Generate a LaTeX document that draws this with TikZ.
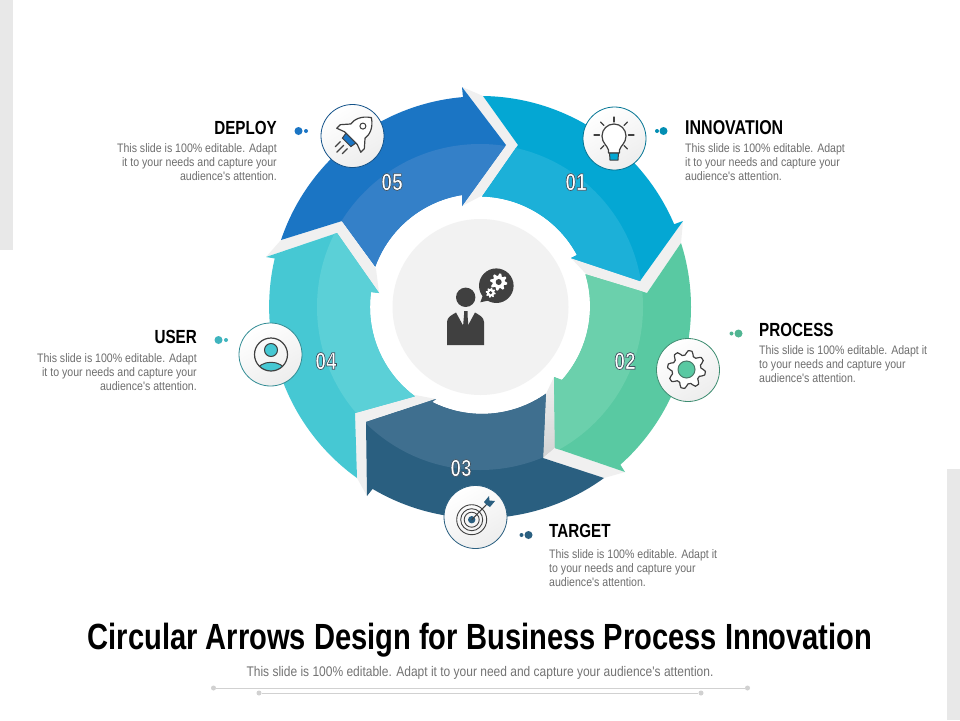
\documentclass[tikz,border=0pt]{standalone}
\usepackage{fontspec}
\setmainfont{Liberation Sans}
\newfontfamily\headfont[FakeStretch=0.80]{Liberation Sans}
\newfontfamily\bodyfont[FakeStretch=0.86]{Liberation Sans}
\definecolor{cA}{HTML}{04A7D3}\definecolor{lA}{HTML}{1CB0D8}
\definecolor{cB}{HTML}{59C9A2}\definecolor{lB}{HTML}{6BD0AC}
\definecolor{cC}{HTML}{2A5F80}\definecolor{lC}{HTML}{3F6F8F}
\definecolor{cD}{HTML}{46C8D3}\definecolor{lD}{HTML}{5BD0D7}
\definecolor{cE}{HTML}{1B75C4}\definecolor{lE}{HTML}{3480C8}
\definecolor{ink}{HTML}{404040}
\definecolor{gapc}{HTML}{F0F0F0}
\definecolor{bodyc}{HTML}{6E6E6E}
\newcommand{\arA}{(483,96) arc[start angle=89.2,end angle=23.1,radius=211pt] -- (683,221) -- (640,281) -- (571,258) -- (577,255) arc[start angle=28.2,end angle=88.5,radius=111pt] -- (518,145) -- cycle}
\newcommand{\arB}{(681,243) arc[start angle=17.7,end angle=-48.3,radius=211pt] -- (625,472) -- (555,448) -- (554,377) -- (562,380) arc[start angle=-41.7,end angle=16.7,radius=111pt] -- (647,293) -- cycle}
\newcommand{\arC}{(604,478) arc[start angle=-54,end angle=-120.6,radius=211pt] -- (367,496) -- (366,422) -- (436,399) -- (432,402) arc[start angle=-116.8,end angle=-54.9,radius=111pt] -- (543,458) -- cycle}
\newcommand{\arD}{(357,478) arc[start angle=234.3,end angle=166.8,radius=211pt] -- (266,257) -- (337,233) -- (379,293) -- (371,292) arc[start angle=172.2,end angle=233.5,radius=111pt] -- (355,413) -- cycle}
\newcommand{\arE}{(281,240) arc[start angle=161.4,end angle=94.9,radius=211pt] -- (462,87) -- (506,145) -- (462,206) -- (462,195) arc[start angle=99.1,end angle=160,radius=111pt] -- (342,221) -- cycle}
\newcommand{\blockarrow}[3]{\fill[#2] #1;\begin{scope}\clip (480,307) circle[radius=163pt];\fill[#3] #1;\end{scope}}
\newcommand{\gearplot}[6]{\draw[#6] plot[samples=#5*8+1,domain=0:360,variable=\t] ({#1+(#3+(#4-#3)*min(1,max(0,0.5+1.6*sin(#5*\t))))*cos(\t)},{#2+(#3+(#4-#3)*min(1,max(0,0.5+1.6*sin(#5*\t))))*sin(\t)}) -- cycle;}
\newcommand{\outlinenum}[1]{\special{pdf:code q 2 Tr 0.7 w 0.25 0.32 0.38 RG}#1\special{pdf:code Q}}
\tikzset{
 iconball/.style={circle,minimum size=63pt,inner sep=0pt,draw=#1,line width=0.8pt,left color=white,right color=black!7,shading angle=30},
 bigdot/.style={circle,fill=#1,minimum size=8pt,inner sep=0pt},
 smalldot/.style={circle,fill=#1,minimum size=4pt,inner sep=0pt},
 ruledot/.style={circle,fill=black!18,minimum size=5pt,inner sep=0pt},
 rule/.style={draw=black!18,line width=1pt},
 headl/.style={font=\headfont\bfseries\fontsize{19}{19}\selectfont,text=black,inner sep=0pt},
 bodyl/.style={font=\bodyfont\fontsize{12.3}{14}\selectfont,text=bodyc,inner sep=0pt},
 numl/.style={font=\headfont\bfseries\fontsize{24}{24}\selectfont,text=white,inner sep=0pt},
 iconline/.style={draw=ink,line width=1.2pt,line cap=round,line join=round},
}
\begin{document}
\begin{tikzpicture}[x=1pt,y=-1pt]
\useasboundingbox (0,0) rectangle (960,720);
\fill[white] (0,0) rectangle (960,720);
\fill[black!9] (0,0) rectangle (13,250);
\fill[black!9] (947,469) rectangle (960,720);
% gaps between arrows
\fill[gapc] (462,87) -- (483,96) -- (518,145) -- (483,195) -- (462,206) -- (506,145) -- cycle;
\fill[gapc] (683,221) -- (640,281) -- (571,258) -- (587,275) -- (647,293) -- (681,243) -- cycle;
\shade[top color=black!6,bottom color=black!17] (554,377) -- (555,448) -- (543,458) -- (544,398) -- cycle;
\fill[gapc] (555,448) -- (625,472) -- (604,478) -- (543,458) -- cycle;
\fill[gapc] (366,422) -- (436,399) -- (415,395) -- (355,413) -- (357,478) -- (367,496) -- cycle;
\fill[gapc] (281,240) -- (342,221) -- (376,269) -- (379,293) -- (337,233) -- (266,257) -- cycle;
% arrows
\blockarrow{\arA}{cA}{lA}
\blockarrow{\arB}{cB}{lB}
\blockarrow{\arC}{cC}{lC}
\blockarrow{\arD}{cD}{lD}
\blockarrow{\arE}{cE}{lE}
% centre
\node[circle,fill=black!5,minimum size=176pt,inner sep=0pt] (hub) at (480.5,307) {};
\fill[ink] (465.7,297.3) circle[radius=9.7pt];
\fill[ink] (447,345) -- (447,322) .. controls (447,317) and (452,315) .. (456,312.5) -- (465.5,330) -- (475,312.5) .. controls (479,315) and (484,317) .. (484,322) -- (484,345) -- cycle;
\fill[ink] (464,311) -- (467.5,311) -- (467.5,315) -- (468.5,327) -- (465.8,331) -- (463,327) -- (464,315) -- cycle;
\fill[ink] (496.3,285.7) circle[radius=17.3pt];
\fill[ink] (483,295) -- (480.3,302.3) -- (491,300) -- cycle;
\gearplot{498.7}{282}{6.2}{8.6}{8}{fill=white,draw=none}
\fill[ink] (498.7,282) circle[radius=3pt];
\gearplot{490.7}{292.7}{3.6}{5}{8}{fill=white,draw=none}
\fill[ink] (490.7,292.7) circle[radius=1.7pt];
% icon balls
\node[iconball=cA!70!black] (ballA) at (614.5,138.5) {};
\node[iconball=cB!70!black] (ballB) at (688,370) {};
\node[iconball=cC] (ballC) at (475.5,517) {};
\node[iconball=cD!70!black] (ballD) at (270.5,354.5) {};
\node[iconball=cE!70!black] (ballE) at (352.5,136) {};
% bulb
\draw[iconline,fill=white] (608.5,153) -- (608.5,150) .. controls (607,145) and (602,143) .. (602,136) arc[start angle=180,end angle=0,radius=12pt] .. controls (626,143) and (621,145) .. (619.5,150) -- (619.5,153) -- cycle;
\draw[draw=ink,line width=1pt,fill=cA] (609.5,153) -- (618.5,153) -- (618,160) -- (610,160) -- cycle;
\foreach \a/\b/\c/\d in {614/117/614/122,594/135/599.5/135,628.5/135/634/135,600.5/122/604/125.5,627.5/122/624/125.5,600.5/149/604/145.5,627.5/149/624/145.5}
  \draw[iconline] (\a,\b) -- (\c,\d);
% rocket
\begin{scope}[shift={(353,136)},rotate=-45]
\draw[iconline,fill=white] (0,-26) .. controls (9,-20) and (11,-12) .. (10,-7) -- (17,1) -- (17,6) -- (9,3) -- (-9,3) -- (-17,6) -- (-17,1) -- (-10,-7) .. controls (-11,-12) and (-9,-20) .. (0,-26) -- cycle;
\draw[iconline,line width=1pt] (0,-14) circle[radius=3pt];
\draw[draw=ink,line width=1pt,fill=cE] (-7,3) -- (7,3) -- (6,9) -- (-6,9) -- cycle;
\draw[iconline] (-5,13) -- (-5,20);
\draw[iconline] (0,13) -- (0,23);
\draw[iconline] (5,13) -- (5,20);
\end{scope}
% gear
\gearplot{686.5}{369.5}{14.5}{19}{8}{draw=ink,line width=1.2pt,line join=round,fill=white}
\draw[draw=ink!60!cB,line width=1pt,fill=cB] (686.5,369.5) circle[radius=8.5pt];
% target
\foreach \r in {15,11,7.5} \draw[draw=ink,line width=0.9pt] (471.7,519.7) circle[radius=\r pt];
\fill[cC] (471.7,519.7) circle[radius=3.7pt];
\draw[draw=ink,line width=1pt] (471.7,519.7) -- (487,504);
\fill[cC] (484,502) -- (489,496) -- (489.5,500.5) -- (495,501) -- (490,507) -- (487,505) -- cycle;
% user
\begin{scope}
\clip (271,354.5) circle[radius=16.5pt];
\draw[draw=ink,line width=1pt,fill=cD] (256,372) .. controls (259,359) and (283,359) .. (286,372) -- (286,380) -- (256,380) -- cycle;
\end{scope}
\draw[draw=ink,line width=1.2pt] (271,354.5) circle[radius=16.5pt];
\draw[draw=ink,line width=1pt,fill=cD] (271,350) circle[radius=6.5pt];
% numbers
\node[numl] (n1) at (576,182) {\outlinenum{01}};
\node[numl] (n2) at (625,361) {\outlinenum{02}};
\node[numl] (n3) at (461,468) {\outlinenum{03}};
\node[numl] (n4) at (326,361) {\outlinenum{04}};
\node[numl] (n5) at (392,182) {\outlinenum{05}};
% dots
\node[bigdot=cE] (dE) at (298.5,131) {};\node[smalldot=cE] (sE) at (306,131) {};
\node[bigdot=cA!85!black] (dA) at (663.5,131) {};\node[smalldot=cA!85!black] (sA) at (657,131) {};
\node[bigdot=cB!90!black] (dB) at (738.5,333.5) {};\node[smalldot=cB!90!black] (sB) at (731.5,333.5) {};
\node[bigdot=cC] (dC) at (528.5,535) {};\node[smalldot=cC] (sC) at (521.5,535) {};
\node[bigdot=cD!90!black] (dD) at (218.5,340) {};\node[smalldot=cD!90!black] (sD) at (226,340) {};
% headings and body
\node[headl,font=\headfont\bfseries\fontsize{20}{20}\selectfont,anchor=west] (hA) at (685,128) {INNOVATION};
\node[bodyl,anchor=west,align=left] (bA) at (685,162) {This slide is 100\% editable. Adapt\\it to your needs and capture your\\audience's attention.};
\node[headl,anchor=west] (hB) at (759,330) {PROCESS};
\node[bodyl,anchor=west,align=left] (bB) at (759,364) {This slide is 100\% editable. Adapt it\\to your needs and capture your\\audience's attention.};
\node[headl,anchor=west] (hC) at (549,531) {TARGET};
\node[bodyl,anchor=west,align=left] (bC) at (549,568.5) {This slide is 100\% editable. Adapt it\\to your needs and capture your\\audience's attention.};
\node[headl,anchor=east] (hD) at (197,337) {USER};
\node[bodyl,anchor=east,align=right] (bD) at (197,372.5) {This slide is 100\% editable. Adapt\\it to your needs and capture your\\audience's attention.};
\node[headl,anchor=east] (hE) at (277,128) {DEPLOY};
\node[bodyl,anchor=east,align=right] (bE) at (277,162) {This slide is 100\% editable. Adapt\\it to your needs and capture your\\audience's attention.};
% title
\node[font=\headfont\bfseries\fontsize{36.4}{36.4}\selectfont,text=black,inner sep=0pt] (title) at (480,640) {Circular Arrows Design for Business Process Innovation};
\node[bodyl,font=\bodyfont\fontsize{13.95}{15}\selectfont,text=black!55] (sub) at (480,673) {This slide is 100\% editable. Adapt it to your need and capture your audience's attention.};
\node[ruledot] (r1a) at (213.5,688) {};\node[ruledot] (r1b) at (747.5,688) {};
\node[ruledot] (r2a) at (259,693) {};\node[ruledot] (r2b) at (701,693) {};
\draw[rule] (r1a) -- (r1b);
\draw[rule] (r2a) -- (r2b);
\end{tikzpicture}
\end{document}
